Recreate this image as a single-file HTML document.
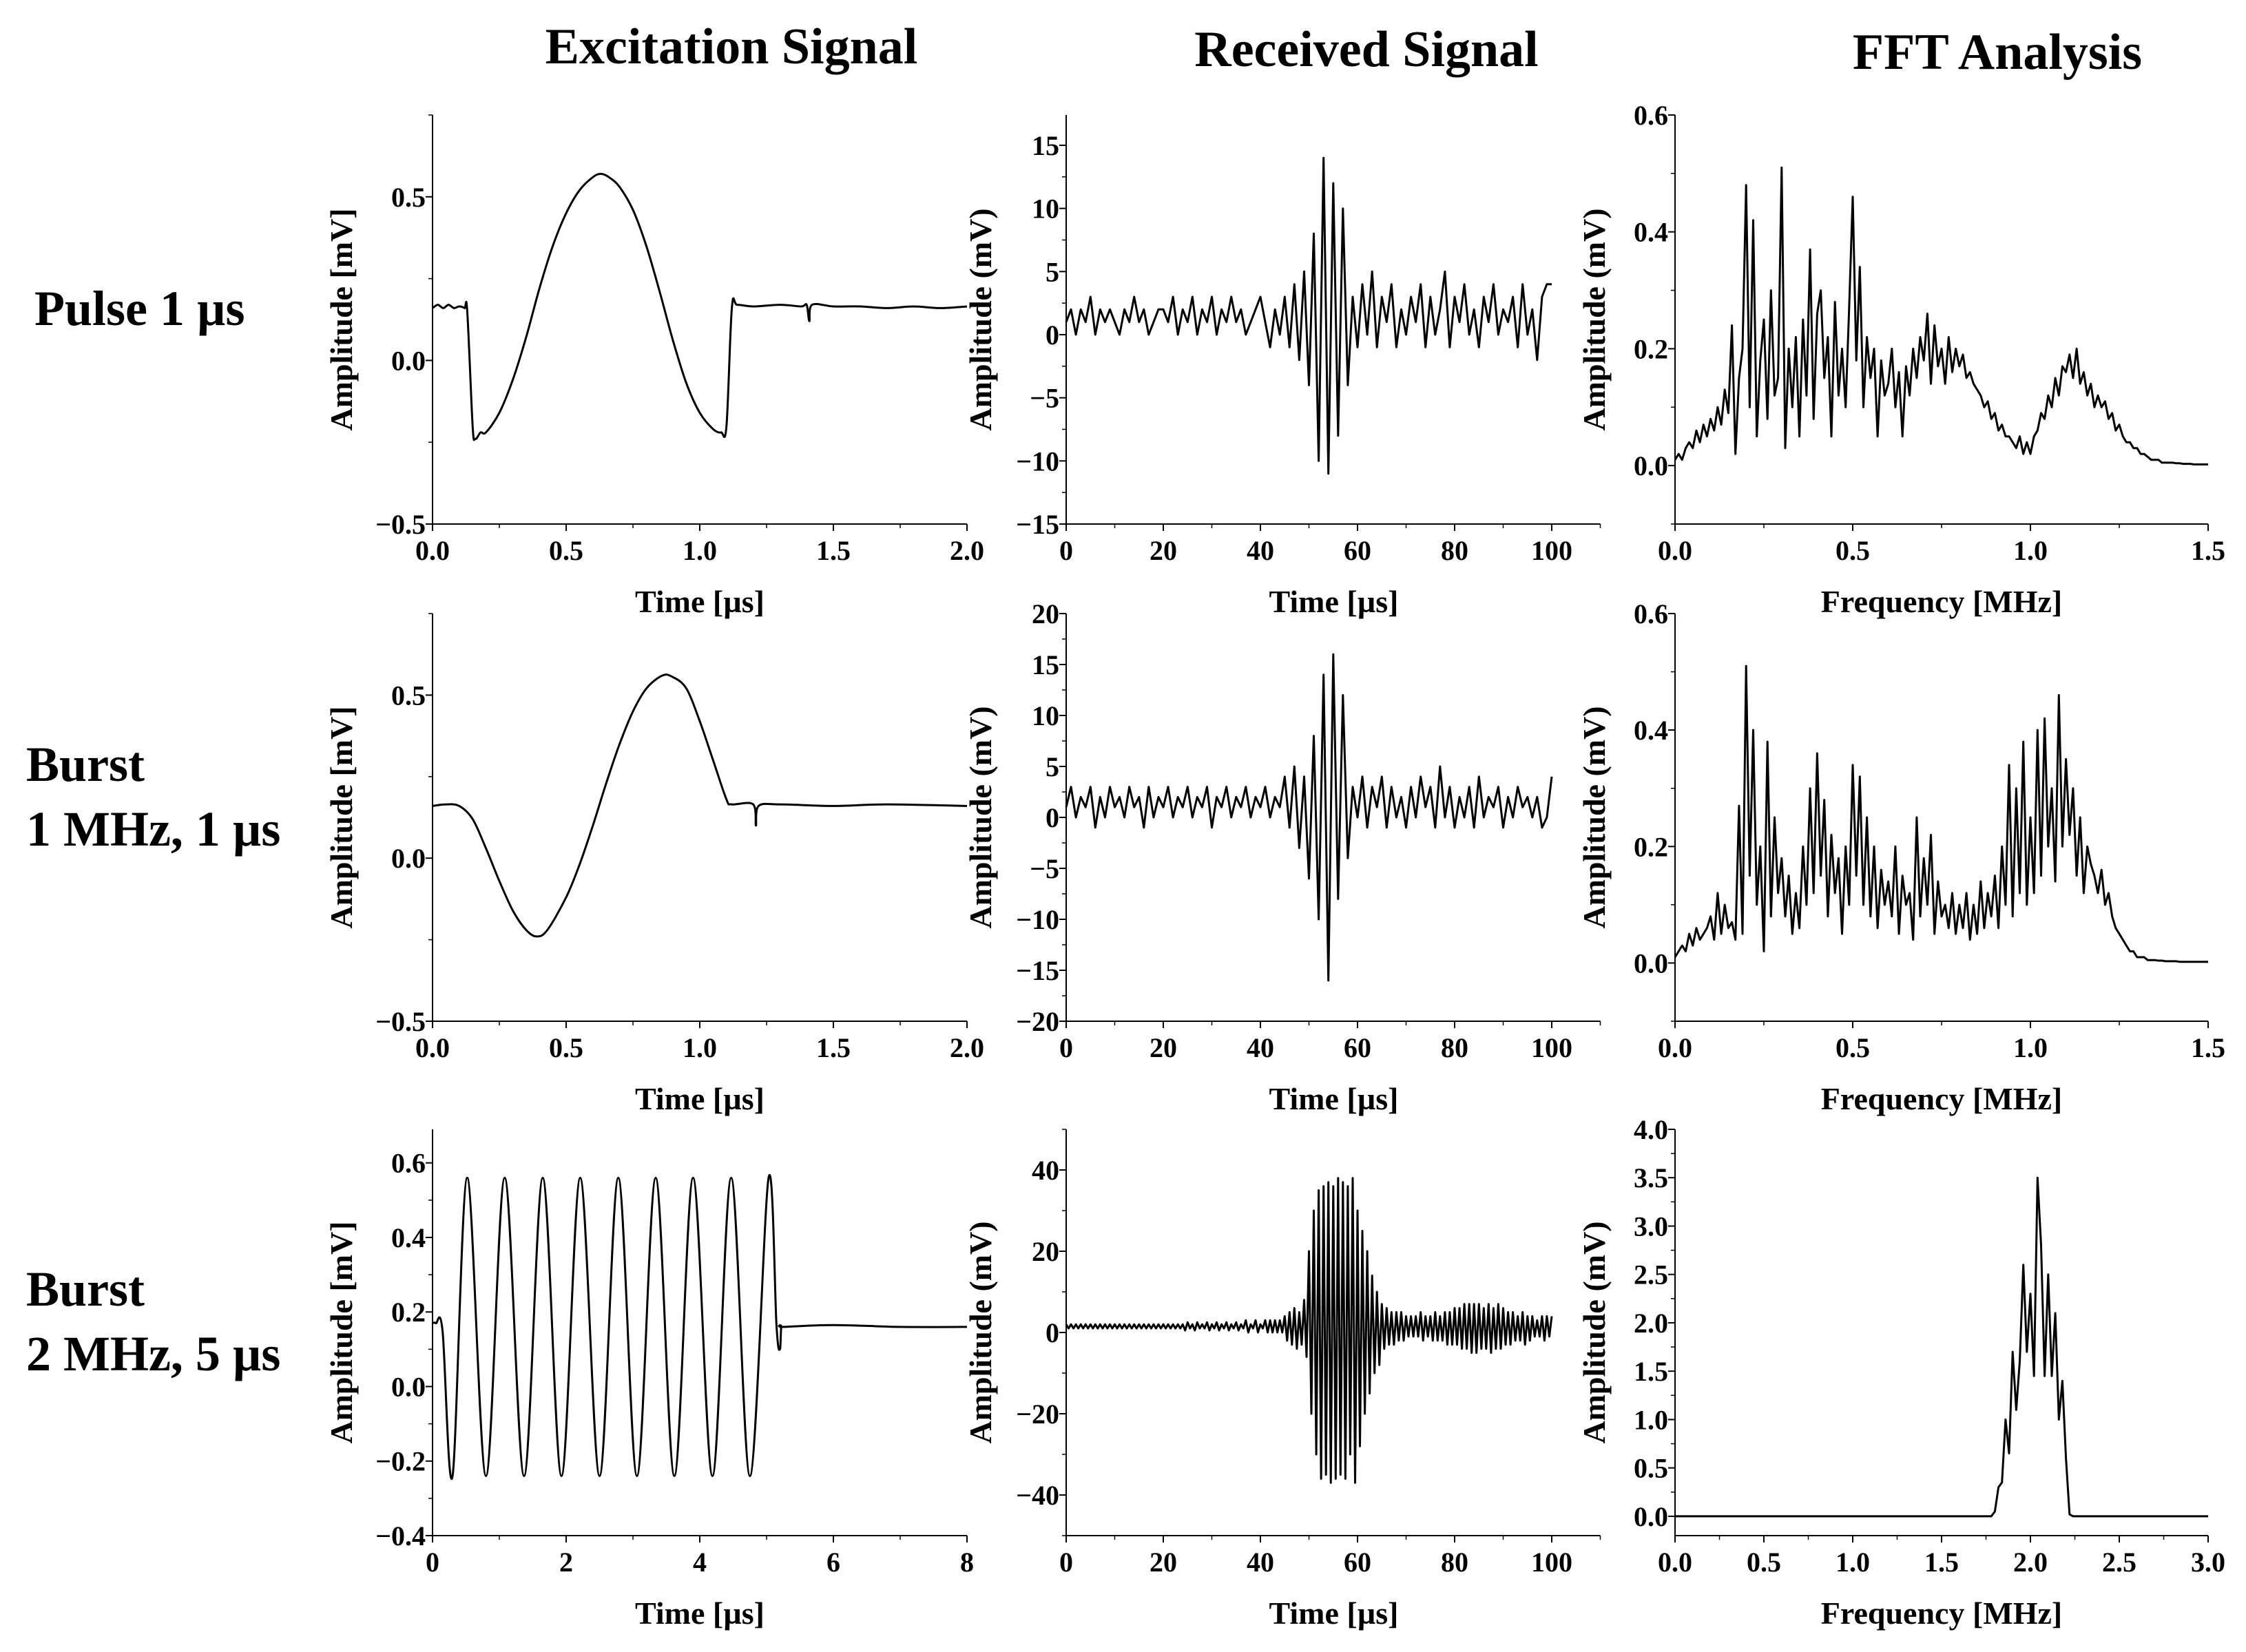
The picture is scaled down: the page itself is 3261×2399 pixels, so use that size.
<!DOCTYPE html>
<html><head><meta charset="utf-8">
<style>
html,body{margin:0;padding:0;background:#fff;}
svg text{font-family:"Liberation Serif",serif;font-weight:bold;fill:#000;}
</style></head>
<body>
<svg id="fig" width="3261" height="2394" viewBox="0 0 3261 2394" xmlns="http://www.w3.org/2000/svg">
<text x="1062" y="92" font-size="74" text-anchor="middle">Excitation Signal</text>
<text x="1984" y="96" font-size="74" text-anchor="middle">Received Signal</text>
<text x="2900" y="100" font-size="74" text-anchor="middle">FFT Analysis</text>
<text x="50" y="472" font-size="72">Pulse 1 µs</text>
<text x="38" y="1134" font-size="72">Burst</text>
<text x="38" y="1228" font-size="72">1 MHz, 1 µs</text>
<text x="38" y="1896" font-size="72">Burst</text>
<text x="38" y="1990" font-size="72">2 MHz, 5 µs</text>
</svg>
<script>
// ---- data ----
const pulseT=[0,0.02,0.04,0.06,0.08,0.1,0.12,0.13,0.15,0.16,0.18,0.2,0.25,0.3,0.35,0.4,0.45,0.5,0.55,0.6,0.63,0.66,0.7,0.75,0.8,0.85,0.9,0.95,1.0,1.05,1.08,1.1,1.12,1.14,1.2,1.3,1.38,1.4,1.41,1.42,1.5,1.6,1.7,1.8,1.9,2.0];
const pulseV=[0.16,0.17,0.16,0.17,0.16,0.165,0.16,0.15,-0.2,-0.24,-0.22,-0.22,-0.16,-0.06,0.07,0.22,0.35,0.45,0.52,0.56,0.57,0.56,0.53,0.46,0.35,0.21,0.06,-0.07,-0.16,-0.21,-0.22,-0.2,0.16,0.17,0.165,0.17,0.165,0.17,0.12,0.17,0.165,0.165,0.16,0.165,0.16,0.165];
const burst1T=[0,0.05,0.1,0.15,0.2,0.25,0.3,0.35,0.39,0.43,0.5,0.55,0.6,0.65,0.7,0.75,0.8,0.86,0.9,0.95,1.0,1.05,1.1,1.12,1.2,1.21,1.22,1.3,1.5,1.7,2.0];
const burst1V=[0.16,0.165,0.16,0.12,0.03,-0.07,-0.16,-0.22,-0.24,-0.22,-0.12,-0.02,0.1,0.23,0.35,0.45,0.52,0.56,0.555,0.52,0.42,0.3,0.18,0.165,0.165,0.1,0.16,0.165,0.16,0.165,0.16];
const burst2T=[0,0.05,0.15,0.3,0.52,0.8,1.08,1.37,1.65,1.93,2.21,2.5,2.78,3.06,3.34,3.62,3.9,4.19,4.47,4.75,5.03,5.15,5.2,5.22,5.25,6,7,8];
const burst2V=[0.17,0.17,0.15,-0.24,0.56,-0.24,0.56,-0.24,0.56,-0.24,0.56,-0.24,0.56,-0.24,0.56,-0.24,0.56,-0.24,0.56,-0.24,0.56,0.16,0.1,0.16,0.16,0.165,0.16,0.16];
const rx1=[1,2,0,2,1,3,0,2,1,2,1,0,2,1,3,1,2,0,1,2,2,1,3,0,2,1,3,0,2,1,3,0,2,1,3,1,2,0,1,2,3,1,-1,2,0,3,-1,4,-2,5,-4,8,-10,14,-11,12,-8,10,-4,3,-1,4,0,5,-1,3,1,4,-1,2,0,3,1,4,-1,3,0,2,5,-1,3,1,4,0,2,-1,3,1,4,0,2,1,3,-1,4,0,2,-2,3,4,4];
const rx2=[1,3,0,2,1,3,-1,2,0,3,1,2,0,3,1,2,-1,3,0,2,1,3,0,2,1,3,0,2,1,3,-1,2,1,3,0,2,1,3,0,2,1,3,0,2,1,4,-1,5,-3,4,-6,8,-10,14,-16,16,-8,12,-4,3,0,4,-1,3,1,4,-1,3,0,2,-1,3,0,4,1,3,-1,5,0,3,-1,2,0,3,-1,4,0,2,1,3,-1,2,0,3,1,2,0,2,-1,0,4];
const rx3=[2,1,2,1,2,1,2,1,2,1,2,1,2,1,2,1,2,1,2,1,2,1,2,1,2,1,2,1,2,1,2,1,2,1,2,1,2,1,2,1,2,1,2,1,2,1,
2,1,2,0.5,2.5,1,2,0.5,2.5,1,2,1,2.5,0.5,2,1,2.5,0.5,2,1,2.5,0.5,2,1,2.5,0.5,2,1,3,0,2,1,3,0,2,1,3,0,3,0,3,0,3,0,
4,-2,5,-3,6,-4,5,-3,8,-6,
20,-20,30,-30,35,-36,36,-35,37,-37,36,-36,38,-35,37,-36,36,-30,38,-37,30,-28,25,-20,20,-15,14,-10,10,-8,
7,-4,6,-3,5,-3,5,-2,5,-2,4,-1,4,-1,4,-1,5,-2,4,-1,4,-2,5,-2,4,-2,5,-3,5,-3,
6,-3,6,-4,7,-4,7,-5,7,-5,7,-4,6,-4,7,-5,6,-4,7,-4,6,-3,5,-3,5,-2,4,-2,5,-3,4,-2,4,-1,3,-1,4,-2,4,-1,4];
const fft1=[0.01,0.02,0.01,0.03,0.04,0.03,0.06,0.04,0.07,0.05,0.08,0.06,0.1,0.07,0.13,0.09,0.24,0.02,0.15,0.2,0.48,0.1,0.42,0.05,0.18,0.25,0.08,0.3,0.12,0.15,0.51,0.03,0.2,0.1,0.22,0.05,0.25,0.12,0.37,0.08,0.26,0.3,0.15,0.22,0.05,0.28,0.12,0.2,0.1,0.27,0.46,0.18,0.34,0.1,0.22,0.15,0.2,0.05,0.18,0.12,0.14,0.2,0.1,0.16,0.05,0.17,0.12,0.2,0.15,0.22,0.18,0.26,0.14,0.24,0.17,0.2,0.14,0.22,0.16,0.2,0.17,0.19,0.15,0.16,0.14,0.13,0.12,0.1,0.11,0.08,0.09,0.06,0.07,0.05,0.05,0.04,0.03,0.05,0.02,0.04,0.02,0.05,0.06,0.09,0.08,0.12,0.1,0.15,0.12,0.17,0.16,0.19,0.15,0.2,0.14,0.16,0.12,0.14,0.1,0.12,0.1,0.11,0.08,0.09,0.06,0.07,0.05,0.04,0.04,0.03,0.03,0.02,0.02,0.015,0.01,0.01,0.01,0.005,0.005,0.005,0.005,0.004,0.004,0.003,0.003,0.003,0.002,0.002,0.002,0.002,0.002];
const fft2=[0.01,0.02,0.03,0.02,0.05,0.03,0.06,0.04,0.05,0.06,0.08,0.04,0.12,0.05,0.1,0.06,0.07,0.04,0.27,0.05,0.51,0.15,0.4,0.1,0.2,0.02,0.38,0.08,0.25,0.12,0.18,0.08,0.15,0.05,0.12,0.06,0.2,0.1,0.3,0.12,0.36,0.15,0.28,0.08,0.22,0.12,0.18,0.05,0.2,0.1,0.34,0.15,0.32,0.1,0.25,0.08,0.2,0.06,0.16,0.1,0.14,0.08,0.2,0.05,0.15,0.1,0.12,0.04,0.25,0.08,0.18,0.1,0.22,0.05,0.14,0.08,0.1,0.06,0.12,0.05,0.1,0.06,0.12,0.04,0.1,0.05,0.14,0.06,0.12,0.08,0.15,0.06,0.2,0.1,0.34,0.08,0.3,0.12,0.38,0.1,0.25,0.12,0.4,0.15,0.42,0.2,0.3,0.14,0.46,0.2,0.35,0.22,0.3,0.15,0.25,0.12,0.2,0.17,0.15,0.12,0.16,0.1,0.12,0.08,0.06,0.05,0.04,0.03,0.02,0.02,0.01,0.01,0.01,0.005,0.005,0.005,0.004,0.004,0.003,0.003,0.003,0.003,0.002,0.002,0.002,0.002,0.002,0.002,0.002,0.002,0.002];
const fft3=[0,0,0,0,0,0,0,0,0,0,0,0,0,0,0,0,0,0,0,0,0,0,0,0,0,0,0,0,0,0,0,0,0,0,0,0,0,0,0,0,0,0,0,0,0,0,0,0,0,0,0,0,0,0,0,0,0,0,0,0,0,0,0,0,0,0,0,0,0,0,0,0,0,0,0,0,0,0,0,0,0,0,0,0,0,0,0,0,0,0,
0.05,0.3,0.35,1.0,0.65,1.7,1.1,1.6,2.6,1.7,2.3,1.45,3.5,2.8,1.45,2.5,1.45,2.1,1.0,1.4,0.6,0.02,
0,0,0,0,0,0,0,0,0,0,0,0,0,0,0,0,0,0,0,0,0,0,0,0,0,0,0,0,0,0,0,0,0,0,0,0,0,0,0];
const ticksC1=[0,0.5,1.0,1.5,2.0];
const ticksC1r3=[0,2,4,6,8];
const ticksC2=[0,20,40,60,80,100];
const ticksC3=[0,0.5,1.0,1.5];
const ticksC3r3=[0,0.5,1.0,1.5,2.0,2.5,3.0];
const ticksY1=[-0.5,0,0.5];
const ticksYr1c2=[-15,-10,-5,0,5,10,15];
const ticksYfft=[0,0.2,0.4,0.6];
const ticksYr2c2=[-20,-15,-10,-5,0,5,10,15,20];
const ticksYr3c1=[-0.4,-0.2,0,0.2,0.4,0.6];
const ticksYr3c2=[-40,-20,0,20,40];
const ticksYr3c3=[0,0.5,1.0,1.5,2.0,2.5,3.0,3.5,4.0];

// ---- drawing ----
const NS='http://www.w3.org/2000/svg';
const svg=document.getElementById('fig');
function el(tag,attrs,parent){const e=document.createElementNS(NS,tag);for(const k in attrs)e.setAttribute(k,attrs[k]);(parent||svg).appendChild(e);return e;}
const cols=[{x0:628,x1:1404},{x0:1548,x1:2253},{x0:2432,x1:3206}];
const rows=[{t:167,b:761},{t:891,b:1483},{t:1640,b:2230}];
function fmt(v,d){if(v<0)return '\u2212'+Math.abs(v).toFixed(d);return v.toFixed(d);}
function panel(o){
  const g=el('g',{});
  
  
  const c=cols[o.col],r=rows[o.row];
  const sx=v=>c.x0+(v-o.xmin)/(o.xref-o.xmin)*(c.x1-c.x0);
  const sy=v=>r.b-(v-o.ymin)/(o.ymax-o.ymin)*(r.b-r.t);
  const xEnd=sx(o.xmax);
  const ax=el('path',{d:`M${c.x0},${r.t}V${r.b}H${xEnd}`,fill:'none',stroke:'#000','stroke-width':2},g);
  
  
  o.xt.forEach(v=>{el('line',{x1:sx(v),x2:sx(v),y1:r.b,y2:r.b+10,stroke:'#000','stroke-width':2},g);
    const t=el('text',{x:sx(v),y:r.b+52,'font-size':40,'text-anchor':'middle'},g);t.textContent=o.xd<0?String(v):fmt(v,o.xd);
    
    });
  for(let v=o.xmin;v<=o.xmax+1e-9;v+=o.xminor){el('line',{x1:sx(v),x2:sx(v),y1:r.b,y2:r.b+6,stroke:'#000','stroke-width':1.5},g);}
  o.yt.forEach(v=>{el('line',{x1:c.x0-10,x2:c.x0,y1:sy(v),y2:sy(v),stroke:'#000','stroke-width':2},g);
    const t=el('text',{x:c.x0-10,y:sy(v)+14,'font-size':40,'text-anchor':'end'},g);t.textContent=o.yd<0?(v<0?'\u2212'+Math.abs(v):String(v)):fmt(v,o.yd);
    
    });
  for(let v=o.yt[0]-o.yminor*Math.floor((o.yt[0]-o.ymin)/o.yminor+1e-9);v<=o.ymax+1e-9;v+=o.yminor){el('line',{x1:c.x0-6,x2:c.x0,y1:sy(v),y2:sy(v),stroke:'#000','stroke-width':1.5},g);}
  const xt=el('text',{x:(c.x0+c.x1)/2+(o.col==1?36:0),y:r.b+128,'font-size':46,'text-anchor':'middle'},g);xt.textContent=o.xl;
  
  
  const yx=c.x0-[117,109,102][o.col],yy=(r.t+r.b)/2;
  const yt=el('text',{x:yx,y:yy,'font-size':46,'text-anchor':'middle',transform:`rotate(-90 ${yx} ${yy})`},g);yt.textContent=o.yl;
  
  
  let pts=[];
  if(o.ts){for(let i=0;i<o.vs.length;i++)pts.push([sx(o.ts[i]),sy(o.vs[i])]);}
  else{for(let i=0;i<o.vs.length;i++)pts.push([sx(i*o.step),sy(o.vs[i])]);}
  let d='M'+pts[0][0].toFixed(1)+','+pts[0][1].toFixed(1);
  if(o.smooth){for(let i=0;i<pts.length-1;i++){const p0=pts[Math.max(0,i-1)],p1=pts[i],p2=pts[i+1],p3=pts[Math.min(pts.length-1,i+2)];
    const c1x=p1[0]+(p2[0]-p0[0])/6,c1y=p1[1]+(p2[1]-p0[1])/6,c2x=p2[0]-(p3[0]-p1[0])/6,c2y=p2[1]-(p3[1]-p1[1])/6;
    d+=`C${c1x.toFixed(1)},${c1y.toFixed(1)} ${c2x.toFixed(1)},${c2y.toFixed(1)} ${p2[0].toFixed(1)},${p2[1].toFixed(1)}`;}}
  else{for(let i=1;i<pts.length;i++)d+='L'+pts[i][0].toFixed(1)+','+pts[i][1].toFixed(1);}
  const ln=el('path',{d:d,fill:'none',stroke:'#000','stroke-width':3,'stroke-linejoin':'round'},g);
  
  
}
const T='Time [µs]',F='Frequency [MHz]',A1='Amplitude [mV]',A2='Amplitude (mV)';
panel({name:'pulse-excitation',row:0,col:0,xmin:0,xref:2,xmax:2,xminor:0.25,ymin:-0.5,ymax:0.75,yminor:0.25,xt:ticksC1,xd:1,yt:ticksY1,yd:1,xl:T,yl:A1,ts:pulseT,vs:pulseV,smooth:true});
panel({name:'pulse-received',row:0,col:1,xmin:0,xref:100,xmax:110,xminor:10,ymin:-15,ymax:17.4,yminor:2.5,xt:ticksC2,xd:-1,yt:ticksYr1c2,yd:-1,xl:T,yl:A2,vs:rx1,step:1});
panel({name:'pulse-fft',row:0,col:2,xmin:0,xref:1.5,xmax:1.5,xminor:0.25,ymin:-0.1,ymax:0.6,yminor:0.1,xt:ticksC3,xd:1,yt:ticksYfft,yd:1,xl:F,yl:A2,vs:fft1,step:0.01});
panel({name:'burst1-excitation',row:1,col:0,xmin:0,xref:2,xmax:2,xminor:0.25,ymin:-0.5,ymax:0.75,yminor:0.25,xt:ticksC1,xd:1,yt:ticksY1,yd:1,xl:T,yl:A1,ts:burst1T,vs:burst1V,smooth:true});
panel({name:'burst1-received',row:1,col:1,xmin:0,xref:100,xmax:110,xminor:10,ymin:-20,ymax:20,yminor:2.5,xt:ticksC2,xd:-1,yt:ticksYr2c2,yd:-1,xl:T,yl:A2,vs:rx2,step:1});
panel({name:'burst1-fft',row:1,col:2,xmin:0,xref:1.5,xmax:1.5,xminor:0.25,ymin:-0.1,ymax:0.6,yminor:0.1,xt:ticksC3,xd:1,yt:ticksYfft,yd:1,xl:F,yl:A2,vs:fft2,step:0.01});
panel({name:'burst2-excitation',row:2,col:0,xmin:0,xref:8,xmax:8,xminor:1,ymin:-0.4,ymax:0.69,yminor:0.1,xt:ticksC1r3,xd:-1,yt:ticksYr3c1,yd:1,xl:T,yl:A1,ts:burst2T,vs:burst2V,smooth:true});
panel({name:'burst2-received',row:2,col:1,xmin:0,xref:100,xmax:110,xminor:10,ymin:-50,ymax:50,yminor:10,xt:ticksC2,xd:-1,yt:ticksYr3c2,yd:-1,xl:T,yl:A2,vs:rx3,step:0.5});
panel({name:'burst2-fft',row:2,col:2,xmin:0,xref:3,xmax:3,xminor:0.25,ymin:-0.2,ymax:4.0,yminor:0.25,xt:ticksC3r3,xd:1,yt:ticksYr3c3,yd:1,xl:F,yl:A2,vs:fft3,step:0.02});
</script>
</body></html>
